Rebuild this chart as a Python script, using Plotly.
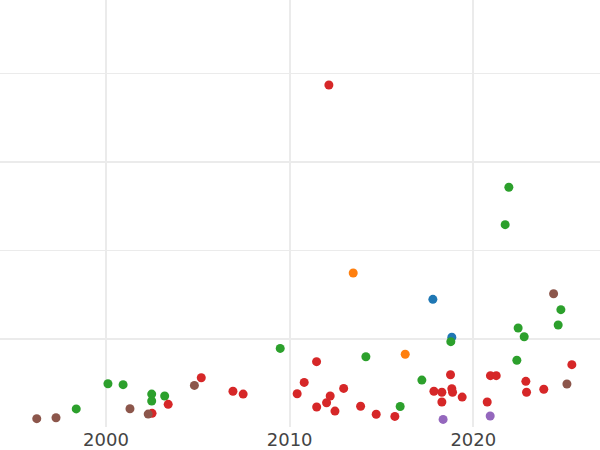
import plotly.graph_objects as go

# one pair of lists per category (date, value)
blue_dates = ["2017-10-19", "2018-10-31"]
blue_values = [12.24, 10.10]

orange_dates = ["2013-06-18", "2016-04-17"]
orange_values = [13.73, 9.14]

green_dates = ["1998-05-19", "2000-02-09", "2000-12-06", "2002-06-28", "2002-06-28",
               "2003-03-13", "2009-06-27", "2014-02-25", "2016-01-08", "2017-03-14",
               "2018-10-11", "2021-09-26", "2021-12-08", "2022-05-16", "2022-06-11",
               "2022-10-09", "2024-08-15", "2024-10-08"]
green_values = [6.05, 7.47, 7.42, 6.89, 6.50,
                6.78, 9.47, 9.00, 6.19, 7.68,
                9.85, 16.46, 18.57, 8.80, 10.62,
                10.13, 10.79, 11.66]

red_dates = ["2002-07-05", "2003-05-22", "2005-03-10", "2006-11-30", "2007-06-21",
             "2010-05-30", "2010-10-17", "2011-06-20", "2011-06-22", "2012-01-05",
             "2012-03-17", "2012-02-20", "2012-06-20", "2012-12-10", "2013-11-12",
             "2014-09-18", "2015-09-24", "2017-11-09", "2018-04-16", "2018-04-16",
             "2018-10-05", "2018-10-31", "2018-11-14", "2019-05-25", "2020-10-04",
             "2020-12-07", "2021-04-01", "2022-11-11", "2022-11-25", "2023-11-03",
             "2025-05-14"]
red_values = [5.80, 6.31, 7.81, 7.05, 6.89,
              6.91, 7.55, 8.72, 6.16, 6.40,
              6.78, 24.35, 5.93, 7.21, 6.20,
              5.75, 5.63, 7.05, 6.99, 6.44,
              7.98, 7.19, 6.99, 6.72, 6.44,
              7.93, 7.93, 7.61, 6.99, 7.16,
              8.55]

purple_dates = ["2018-05-11", "2020-12-02"]
purple_values = [5.46, 5.65]

brown_dates = ["1996-03-25", "1997-04-12", "2001-04-22", "2002-04-19", "2004-10-24",
               "2024-05-16", "2025-02-05"]
brown_values = [5.50, 5.55, 6.06, 5.76, 7.38, 12.56, 7.46]

groups = [
    (blue_dates, blue_values, "#1f77b4"),
    (orange_dates, orange_values, "#ff7f0e"),
    (green_dates, green_values, "#2ca02c"),
    (red_dates, red_values, "#d62728"),
    (purple_dates, purple_values, "#9467bd"),
    (brown_dates, brown_values, "#8c564b"),
]

fig = go.Figure()
for dates, values, color in groups:
    fig.add_trace(go.Scatter(
        x=dates, y=values,
        mode="markers",
        marker=dict(size=9, color=color),
        showlegend=False,
    ))

fig.update_layout(
    width=600, height=450,
    margin=dict(l=0, r=0, t=0, b=23),
    plot_bgcolor="white",
    paper_bgcolor="white",
    font=dict(family="DejaVu Sans", size=18, color="#444"),
)
fig.update_xaxes(
    range=["1994-03-25", "2026-11-25"],
    showgrid=True, gridcolor="#ebebeb", gridwidth=2,
    zeroline=False, showline=False,
    dtick="M120", tickformat="%Y",
)
fig.update_yaxes(
    range=[5.03, 29.15],
    showgrid=True, gridcolor="#ebebeb", gridwidth=2,
    dtick=10, showticklabels=False,
    zeroline=False, showline=False,
    minor=dict(dtick=5, showgrid=True, gridcolor="#ebebeb", gridwidth=1),
)

# drop the page's default body margin so the chart sits at the window corner
fig.write_html("out.html", config={"displayModeBar": False},
               post_script="document.body.style.margin='0';")
